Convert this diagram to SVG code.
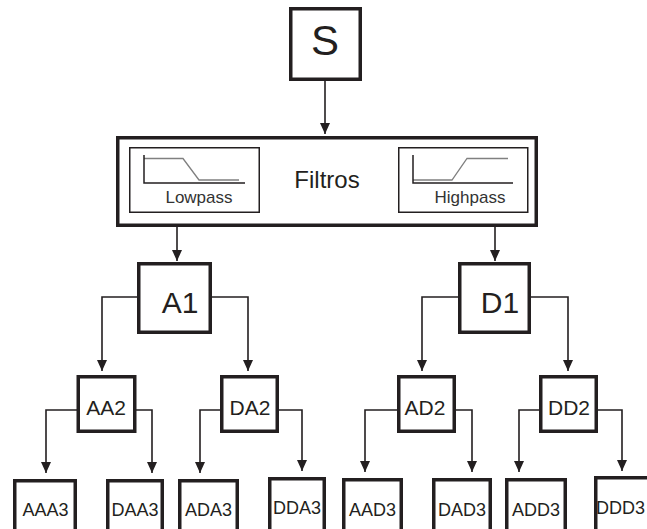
<svg xmlns="http://www.w3.org/2000/svg" width="647" height="529" viewBox="0 0 647 529">
  <style>
    .box { fill: #fff; stroke: #231f20; stroke-width: 3.5; }
    .thin { fill: #fff; stroke: #231f20; stroke-width: 1.5; }
    .axis { fill: none; stroke: #231f20; stroke-width: 1.5; }
    .curve { fill: none; stroke: #808080; stroke-width: 1.3; }
    .wire { fill: none; stroke: #231f20; stroke-width: 1.6; marker-end: url(#arrow); }
    text { font-family: "Liberation Sans", Arial, sans-serif; fill: #231f20; text-anchor: middle; }
    .t0 { font-size: 42px; }
    .t1 { font-size: 30px; }
    .t2 { font-size: 21px; }
    .t3 { font-size: 18px; }
    .tf { font-size: 24px; }
    .tg { font-size: 17px; fill: #333; }
  </style>
  <defs>
    <marker id="arrow" viewBox="0 0 11 10" refX="11" refY="5" markerWidth="11" markerHeight="10" markerUnits="userSpaceOnUse" orient="auto">
      <path d="M0,0 L11,5 L0,10 z" fill="#231f20"/>
    </marker>
  </defs>

  <!-- connectors -->
  <g id="connectors">
    <path class="wire" d="M325,81 V134"/>
    <path class="wire" d="M177,227 V261"/>
    <path class="wire" d="M495,227 V261"/>
    <path class="wire" d="M138,297 H102 V371"/>
    <path class="wire" d="M211,297 H248 V371"/>
    <path class="wire" d="M458,297 H422 V371"/>
    <path class="wire" d="M531,297 H568 V371"/>
    <path class="wire" d="M77,410 H46 V473"/>
    <path class="wire" d="M136,410 H152 V473"/>
    <path class="wire" d="M220,410 H200 V473"/>
    <path class="wire" d="M278,410 H302 V471"/>
    <path class="wire" d="M397,410 H365 V472"/>
    <path class="wire" d="M456,410 H472 V472"/>
    <path class="wire" d="M539,410 H519 V472"/>
    <path class="wire" d="M598,410 H622 V471"/>
  </g>

  <!-- source -->
  <g id="S">
    <rect class="box" x="290.75" y="8.75" width="69.5" height="70.5"/>
    <text class="t0" x="325" y="55">S</text>
  </g>

  <!-- filter bank -->
  <g id="Filtros">
    <rect class="box" x="117.75" y="137.75" width="418.5" height="87.5"/>
    <text class="tf" x="327" y="188">Filtros</text>
    <g id="Lowpass">
      <rect class="thin" x="129.75" y="147.75" width="129.5" height="64.5"/>
      <path class="curve" d="M144,158.5 H183 L199,180 H239"/>
      <path class="axis" d="M144,155 V183 H245"/>
      <text class="tg" x="199" y="203">Lowpass</text>
    </g>
    <g id="Highpass">
      <rect class="thin" x="398.75" y="147.75" width="129" height="64.5"/>
      <path class="curve" d="M413,180 H452 L467,158.5 H508"/>
      <path class="axis" d="M413,155 V183 H513"/>
      <text class="tg" x="470" y="203">Highpass</text>
    </g>
  </g>

  <!-- level 1 -->
  <g id="A1">
    <rect class="box" x="138.75" y="263.75" width="71.5" height="68.5"/>
    <text class="t1" x="180" y="313">A1</text>
  </g>
  <g id="D1">
    <rect class="box" x="459.75" y="263.75" width="69.5" height="68.5"/>
    <text class="t1" x="500" y="313">D1</text>
  </g>

  <!-- level 2 -->
  <g id="AA2">
    <rect class="box" x="78.25" y="376.75" width="56.5" height="54.5"/>
    <text class="t2" x="106" y="415">AA2</text>
  </g>
  <g id="DA2">
    <rect class="box" x="221.75" y="376.75" width="55.5" height="54.5"/>
    <text class="t2" x="250" y="415">DA2</text>
  </g>
  <g id="AD2">
    <rect class="box" x="398.75" y="376.75" width="55.5" height="54.5"/>
    <text class="t2" x="425" y="415">AD2</text>
  </g>
  <g id="DD2">
    <rect class="box" x="540.75" y="376.75" width="55.5" height="54.5"/>
    <text class="t2" x="569" y="415">DD2</text>
  </g>

  <!-- level 3 -->
  <g id="AAA3">
    <rect class="box" x="14.75" y="480.75" width="60.5" height="60"/>
    <text class="t3" x="45.5" y="516">AAA3</text>
  </g>
  <g id="DAA3">
    <rect class="box" x="107.75" y="480.75" width="54.5" height="60"/>
    <text class="t3" x="135" y="516">DAA3</text>
  </g>
  <g id="ADA3">
    <rect class="box" x="179.75" y="480.75" width="57.5" height="60"/>
    <text class="t3" x="208.5" y="516">ADA3</text>
  </g>
  <g id="DDA3">
    <rect class="box" x="269.75" y="478.75" width="54.5" height="60"/>
    <text class="t3" x="297" y="514">DDA3</text>
  </g>
  <g id="AAD3">
    <rect class="box" x="343.75" y="479.75" width="57.5" height="60"/>
    <text class="t3" x="372.5" y="516">AAD3</text>
  </g>
  <g id="DAD3">
    <rect class="box" x="433.75" y="479.75" width="56.5" height="60"/>
    <text class="t3" x="462" y="516">DAD3</text>
  </g>
  <g id="ADD3">
    <rect class="box" x="506.75" y="479.75" width="58.5" height="60"/>
    <text class="t3" x="536" y="516">ADD3</text>
  </g>
  <g id="DDD3">
    <rect class="box" x="595.75" y="477.75" width="60" height="60"/>
    <text class="t3" x="620.5" y="514">DDD3</text>
  </g>
</svg>
